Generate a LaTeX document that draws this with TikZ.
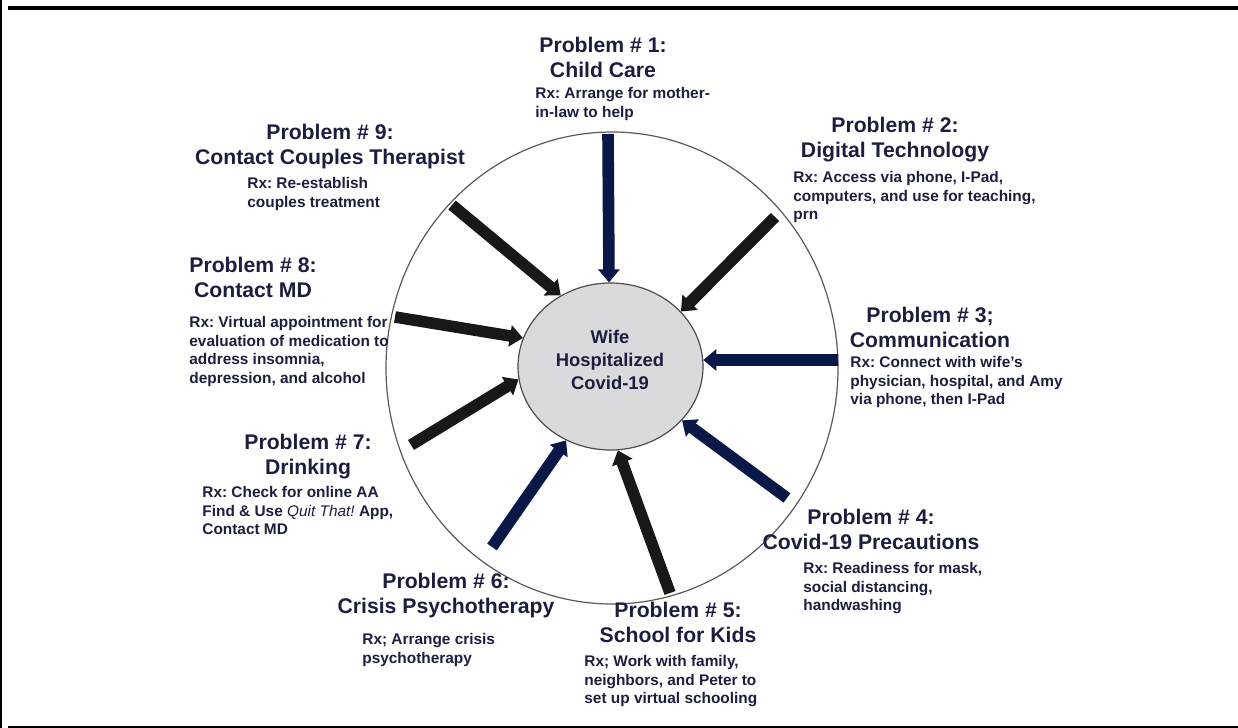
\documentclass[tikz,border=0pt]{standalone}
\usepackage{fontspec}
\setmainfont{Liberation Sans}
\usetikzlibrary{shapes.geometric,arrows.meta}
\definecolor{inkblue}{RGB}{28,30,62}
\definecolor{navyarrow}{RGB}{10,24,72}
\definecolor{darkarrow}{RGB}{24,24,24}
\definecolor{hubgray}{RGB}{218,218,220}
\frenchspacing

\begin{document}
\begin{tikzpicture}[x=0.5pt,y=-0.5pt,
    problem/.style={align=center, inner sep=0pt, anchor=north, text=inkblue,
      font=\fontsize{10.6}{12.3}\selectfont\bfseries},
    rx/.style={align=left, inner sep=0pt, anchor=north west, text=inkblue,
      font=\fontsize{7.7}{9.3}\selectfont\bfseries},
    push/.style={line width=5.8pt, -{Triangle[width=10.5pt,length=6.5pt]}}]
    \useasboundingbox (0,0) rectangle (1238,728);
    \draw[line width=1pt] (1,0) -- (1,728);
    \draw[line width=2pt] (8,8) -- (1238,8);
    \draw[line width=0.8pt] (8,727) -- (1238,727);

    \node[draw=gray!70!black, line width=0.6pt, ellipse, minimum width=226pt, minimum height=236pt] (ring) at (612,368) {};
    \node[draw=gray!60!black, fill=hubgray, line width=0.6pt, ellipse, minimum width=92.5pt, minimum height=83.5pt] (hub) at (610.5,366.5) {};
    \node[align=center, text=inkblue, font=\fontsize{9.2}{11.3}\selectfont\bfseries] (hubtext) at (610,360) {Wife\\Hospitalized\\Covid-19};

    \node[problem] (p1) at (603,37) {Problem \# 1:\\Child Care};
    \node[rx] (rx1) at (535,87) {Rx: Arrange for mother-\\in-law to help};
    \node[problem] (p2) at (895,117) {Problem \# 2:\\Digital Technology};
    \node[rx] (rx2) at (793,171) {Rx: Access via phone, I-Pad,\\computers, and use for teaching,\\prn};
    \node[problem] (p3) at (930,307) {Problem \# 3;\\Communication};
    \node[rx] (rx3) at (850,356) {Rx: Connect with wife's\\physician, hospital, and Amy\\via phone, then I-Pad};
    \node[problem] (p4) at (871,509) {Problem \# 4:\\Covid-19 Precautions};
    \node[rx] (rx4) at (803,562) {Rx: Readiness for mask,\\social distancing,\\handwashing};
    \node[problem] (p5) at (678,602) {Problem \# 5:\\School for Kids};
    \node[rx] (rx5) at (584,655) {Rx; Work with family,\\neighbors, and Peter to\\set up virtual schooling};
    \node[problem] (p6) at (446,573) {Problem \# 6:\\Crisis Psychotherapy};
    \node[rx] (rx6) at (362,633) {Rx; Arrange crisis\\psychotherapy};
    \node[problem] (p7) at (308,434) {Problem \# 7:\\Drinking};
    \node[rx] (rx7) at (202,486) {Rx: Check for online AA\\Find \& Use {\mdseries\itshape Quit That!} App,\\Contact MD};
    \node[problem] (p8) at (253,257) {Problem \# 8:\\Contact MD};
    \node[rx] (rx8) at (189,316) {Rx: Virtual appointment for\\evaluation of medication to\\address insomnia,\\depression, and alcohol};
    \node[problem] (p9) at (330,124) {Problem \# 9:\\Contact Couples Therapist};
    \node[rx] (rx9) at (247,177) {Rx: Re-establish\\couples treatment};

    \coordinate (s1) at (608,134);
    \coordinate (s2) at (775,217);
    \coordinate (s3) at (838,360);
    \coordinate (s4) at (787,498);
    \coordinate (s5) at (670,593);
    \coordinate (s6) at (492,547);
    \coordinate (s7) at (411,445);
    \coordinate (s8) at (395,317);
    \coordinate (s9) at (452,205);

    \draw[push, navyarrow] (s1) -- (hub.91);
    \draw[push, darkarrow] (s2) -- (hub.38);
    \draw[push, navyarrow] (s3) -- (hub.4);
    \draw[push, navyarrow] (s4) -- (hub.-37);
    \draw[push, darkarrow] (s5) -- (hub.-85);
    \draw[push, navyarrow] (s6) -- (hub.-121);
    \draw[push, darkarrow] (s7) -- (hub.188);
    \draw[push, darkarrow] (s8) -- (hub.162);
    \draw[push, darkarrow] (s9) -- (hub.125);
  \end{tikzpicture}
\end{document}
